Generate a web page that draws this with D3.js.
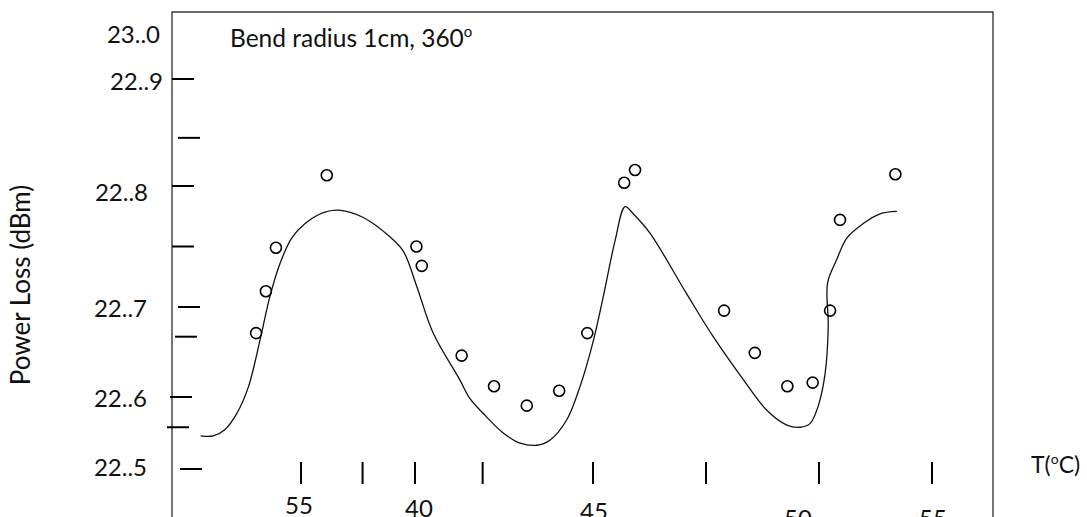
<!DOCTYPE html>
<html>
<head>
<meta charset="utf-8">
<script src="https://cdnjs.cloudflare.com/ajax/libs/d3/7.8.5/d3.min.js"></script>
<style>
  html, body { margin: 0; padding: 0; background: #fff; }
  svg { display: block; }
  text { font-family: Lato, "Open Sans", sans-serif; fill: #111; }
</style>
</head>
<body>
<div id="chart"></div>
<script>
// ---------- data ----------
const measuredT = [33.03, 33.46, 33.90, 36.13, 40.04, 40.19, 41.31, 42.22, 43.14, 44.05, 44.84, 45.69, 45.93, 47.90, 48.58, 49.30, 49.86, 50.49, 50.93, 53.38];
const measuredLoss = [22.671, 22.713, 22.749, 22.810, 22.750, 22.734, 22.646, 22.612, 22.588, 22.607, 22.671, 22.803, 22.815, 22.696, 22.649, 22.612, 22.616, 22.696, 22.772, 22.811];

const fitT = [30.60, 31.15, 31.67, 32.18, 32.69, 33.20, 33.64, 34.08, 34.59, 35.18, 35.98, 36.64, 37.73, 38.90, 39.49, 40.05, 40.51, 41.26, 41.54, 41.92, 42.48, 42.95, 43.42, 43.79, 44.26, 44.63, 45.01, 45.23, 45.49, 45.71, 45.89, 46.26, 47.07, 47.66, 48.33, 48.84, 49.29, 49.58, 49.80, 49.98, 50.27, 50.41, 50.38, 50.78, 51.23, 51.96, 52.70, 53.44];
const fitLoss = [22.546, 22.546, 22.555, 22.577, 22.611, 22.663, 22.709, 22.736, 22.757, 22.769, 22.778, 22.780, 22.774, 22.758, 22.746, 22.717, 22.671, 22.619, 22.598, 22.577, 22.550, 22.536, 22.533, 22.540, 22.568, 22.611, 22.663, 22.709, 22.755, 22.783, 22.777, 22.761, 22.711, 22.667, 22.619, 22.582, 22.561, 22.558, 22.563, 22.587, 22.626, 22.678, 22.720, 22.739, 22.757, 22.769, 22.777, 22.779];

const yTickValues = [22.5, 22.558, 22.6, 22.667, 22.7, 22.75, 22.8, 22.845, 22.9];
const yLabelValues = [22.5, 22.6, 22.7, 22.8, 22.9, 23.0];
const yLabelTexts = ["22..5", "22..6", "22..7", "22..8", "22..9", "23..0"];

const xTickValues = [35, 37.7, 40, 41.9, 45, 47.5, 50, 55];
const xLabelValues = [35, 40, 45, 50, 55];
const xLabelTexts = ["55", "40", "45", "50", "55"];

const yTitle = "Power Loss (dBm)";
const xTitle = ["T(", "o", "C)"];
const annotation = ["Bend radius 1cm, 360", "o"];

// ---------- layout / style ----------
const W = 1087, H = 517;
const frame = { left: 172, top: 12, right: 993 };
// hand-drawn tick offsets (style only)
const yTickStart = [8, -5, -2, 3, 6, 0, 0, 6, 0];
const yTickLen = 22;
const yLabelEnd = [147, 147, 147, 148, 163, 160];
const yLabelDy = [-2, 1, 1, 6, 2, 0];
const xLabelDx = [-2, 4, 1, -21, 1];
const xLabelBase = [514, 517, 520, 527, 527];

const x = d3.scaleLinear().domain([35, 40, 45, 50, 55]).range([301, 415, 593, 819, 932]);
const y = d3.scaleLinear().domain([22.5, 22.6, 22.7, 22.8, 22.9, 23.0]).range([469, 397, 307, 186, 79, 34]);

const svg = d3.select("#chart").append("svg").attr("width", W).attr("height", H);
svg.append("rect").attr("width", W).attr("height", H).attr("fill", "#fff");

// frame
svg.append("path")
  .attr("d", `M${frame.left},${H} V${frame.top} H${frame.right} V${H}`)
  .attr("fill", "none").attr("stroke", "#3a3a3a").attr("stroke-width", 1.4);

// y ticks
svg.append("g").selectAll("line").data(yTickValues).join("line")
  .attr("x1", (d, i) => frame.left + yTickStart[i])
  .attr("x2", (d, i) => frame.left + yTickStart[i] + yTickLen)
  .attr("y1", d => y(d)).attr("y2", d => y(d))
  .attr("stroke", "#000").attr("stroke-width", 2);

// y labels
svg.append("g").selectAll("text").data(yLabelValues).join("text")
  .attr("x", (d, i) => yLabelEnd[i])
  .attr("y", (d, i) => y(d) + yLabelDy[i])
  .attr("dy", "0.36em")
  .attr("text-anchor", "end")
  .attr("font-size", 24)
  .text((d, i) => yLabelTexts[i]);

// x ticks
svg.append("g").selectAll("line").data(xTickValues).join("line")
  .attr("x1", d => x(d)).attr("x2", d => x(d))
  .attr("y1", 462).attr("y2", 484)
  .attr("stroke", "#000").attr("stroke-width", 2);

// x labels
svg.append("g").selectAll("text").data(xLabelValues).join("text")
  .attr("x", (d, i) => x(d) + xLabelDx[i])
  .attr("y", (d, i) => xLabelBase[i])
  .attr("text-anchor", "middle")
  .attr("font-size", 24)
  .text((d, i) => xLabelTexts[i]);

// x title
const xt = svg.append("text").attr("x", 1031).attr("y", 473).attr("font-size", 23);
xt.append("tspan").text(xTitle[0]);
xt.append("tspan").attr("font-size", 14).attr("dy", -9).text(xTitle[1]);
xt.append("tspan").attr("dy", 9).text(xTitle[2]);

// y title
svg.append("text")
  .attr("transform", "translate(30,285) rotate(-90)")
  .attr("text-anchor", "middle")
  .attr("font-size", 26)
  .text(yTitle);

// annotation
const an = svg.append("text").attr("x", 230).attr("y", 47).attr("font-size", 24.5);
an.append("tspan").text(annotation[0]);
an.append("tspan").attr("font-size", 15).attr("dy", -10).text(annotation[1]);

// fitted curve
const fit = fitT.map((t, i) => [t, fitLoss[i]]);
svg.append("path").datum(fit)
  .attr("d", d3.line().x(d => x(d[0])).y(d => y(d[1])).curve(d3.curveCatmullRom.alpha(0.5)))
  .attr("fill", "none").attr("stroke", "#111").attr("stroke-width", 1.3);

// measured points
svg.append("g").selectAll("circle").data(measuredT).join("circle")
  .attr("cx", d => x(d))
  .attr("cy", (d, i) => y(measuredLoss[i]))
  .attr("r", 5.5)
  .attr("fill", "none").attr("stroke", "#000").attr("stroke-width", 1.6);
</script>
</body>
</html>
